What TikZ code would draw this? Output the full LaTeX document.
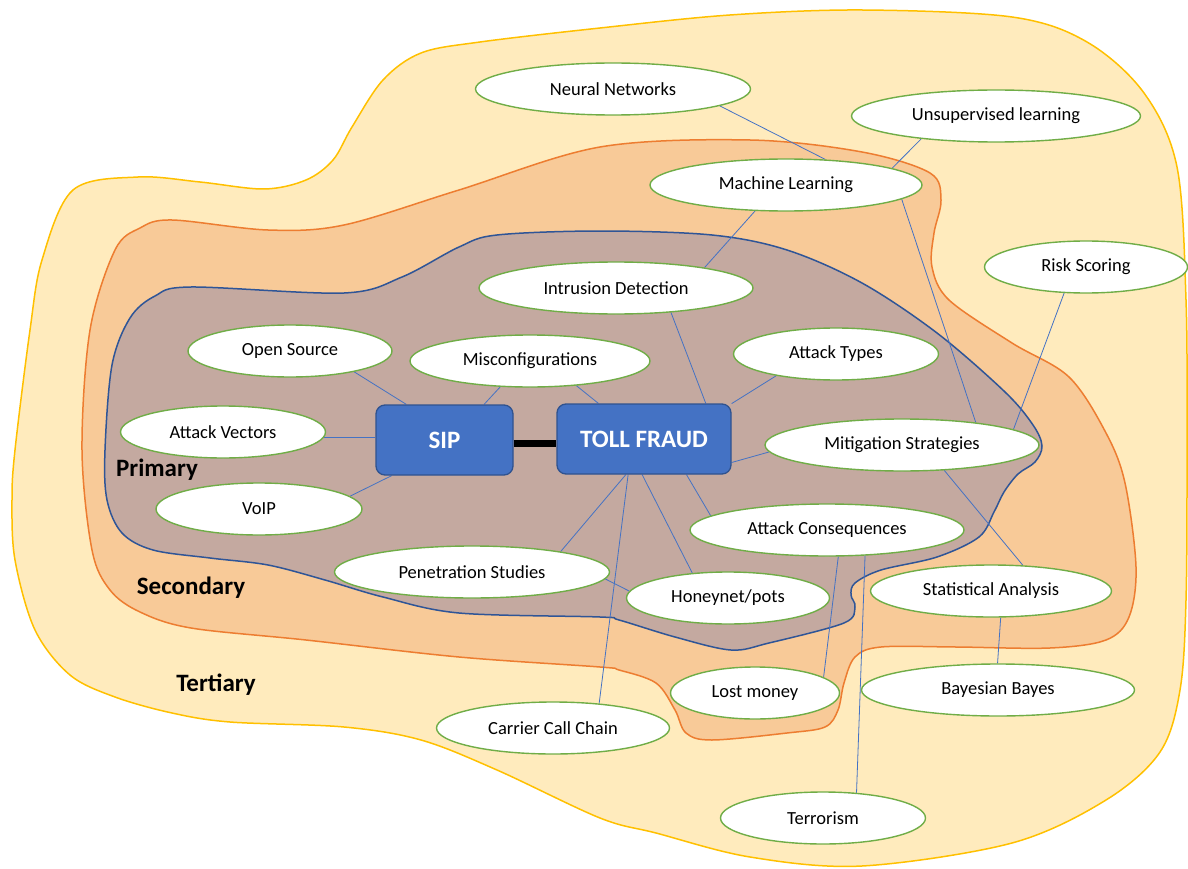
\documentclass[tikz,border=0pt]{standalone}
\usepackage{fontspec}
\setmainfont{Carlito}
\usetikzlibrary{shapes.geometric,backgrounds}
\definecolor{tfill}{HTML}{FFEBBD}
\definecolor{tline}{HTML}{FFC000}
\definecolor{sfill}{HTML}{F8CA98}
\definecolor{sline}{HTML}{ED7D31}
\definecolor{pfill}{HTML}{C4A9A0}
\definecolor{pline}{HTML}{2F5597}
\definecolor{elg}{HTML}{70AD47}
\definecolor{conn}{HTML}{4472C4}
\definecolor{boxfill}{HTML}{4472C4}
\definecolor{boxline}{HTML}{2F528F}
\begin{document}
\begin{tikzpicture}[x=1pt,y=-1pt,
  topic/.style={ellipse, draw=elg, line width=1.4pt, fill=white, inner sep=0pt,
    minimum height=52pt, font=\fontsize{18.5}{20}\selectfont},
  core/.style={rectangle, rounded corners=9pt, fill=boxfill, draw=boxline, line width=1.3pt,
    text=white, font=\bfseries\fontsize{25}{28}\selectfont, inner sep=0pt},
  zone/.style={font=\bfseries\fontsize{25}{28}\selectfont, inner sep=0pt},
  link/.style={draw=conn, line width=0.8pt},
  blob/.style={line width=1.5pt}]
\useasboundingbox (0,0) rectangle (1188,869);

% core boxes
\node[core, minimum width=137pt, minimum height=70pt] (sip) at (444.5,440) {SIP};
\node[core, minimum width=174pt, minimum height=70pt] (toll) at (644,439) {TOLL FRAUD};

% topic ellipses
\node[topic, minimum width=275pt] (nn) at (613,89) {Neural Networks};
\node[topic, minimum width=289pt] (ul) at (996,116) {Unsupervised learning};
\node[topic, minimum width=272pt] (ml) at (786,185) {Machine Learning};
\node[topic, minimum width=203pt] (rs) at (1086,267) {Risk Scoring};
\node[topic, minimum width=274pt] (id) at (616,288) {Intrusion Detection};
\node[topic, minimum width=204pt] (os) at (290,351) {Open Source};
\node[topic, minimum width=240pt] (mc) at (530,361) {Misconfigurations};
\node[topic, minimum width=205pt] (at) at (836,354) {Attack Types};
\node[topic, minimum width=205pt] (av) at (223,432) {Attack Vectors};
\node[topic, minimum width=274pt] (ms) at (902,445) {Mitigation Strategies};
\node[topic, minimum width=206pt] (voip) at (259,509) {VoIP};
\node[topic, minimum width=274pt] (ac) at (827,530) {Attack Consequences};
\node[topic, minimum width=275pt] (ps) at (472,572) {Penetration Studies};
\node[topic, minimum width=203pt] (hp) at (728,598) {Honeynet/pots};
\node[topic, minimum width=241pt] (sa) at (991,591) {Statistical Analysis};
\node[topic, minimum width=169pt] (lm) at (755,693) {Lost money};
\node[topic, minimum width=273pt] (bb) at (998,690) {Bayesian Bayes};
\node[topic, minimum width=233pt] (cc) at (553,728) {Carrier Call Chain};
\node[topic, minimum width=205pt] (tr) at (823,818) {Terrorism};

% zone labels
\node[zone] (lp) at (157,470) {Primary};
\node[zone] (ls) at (191,588) {Secondary};
\node[zone] (lt) at (216,685) {Tertiary};

\begin{scope}[on background layer]
% tertiary
\draw[blob, draw=tline, fill=tfill] plot[smooth cycle, tension=0.55] coordinates {
 (73,190) (138,177) (200,182) (264,189) (306,180) (333,160) (352,127) (383,80)
 (421,53) (480,42) (600,28) (730,15) (862,10) (1012,17) (1087,42) (1144,93)
 (1177,167) (1186,300) (1187,450) (1186,600) (1180,690) (1160,752) (1106,800)
 (1012,843) (862,866) (750,857) (656,833) (600,818) (497,770) (421,740) (344,727)
 (230,722) (172,713) (115,697) (70,675) (35,630) (15,560) (12,500) (15,450)
 (30,330) (42,260)};
% secondary
\draw[blob, draw=sline, fill=sfill] plot[smooth cycle, tension=0.55] coordinates {
 (172,220) (268,230) (344,225) (459,190) (600,147) (750,140) (862,152) (930,173)
 (941,200) (934,233) (932,267) (949,300) (1012,343) (1069,377) (1106,433)
 (1125,483) (1136,567) (1129,617) (1106,640) (1050,648) (956,647) (881,647)
 (855,657) (844,683) (838,710) (825,727) (787,733) (712,740) (686,733) (675,710)
 (656,683) (619,670) (600,667) (459,657) (306,640) (191,628) (140,612) (110,590)
 (92,550) (82,450) (90,330) (115,250) (140,228)};
% primary
\draw[blob, draw=pline, fill=pfill] plot[smooth cycle, tension=0.55] coordinates {
 (191,287) (344,293) (402,277) (459,247) (497,235) (600,231) (712,235) (787,250)
 (862,283) (937,333) (1005,392) (1033,425) (1042,446) (1035,462) (1018,474) (1004,492)
 (994,512) (979,537) (937,557) (881,570) (855,583) (851,595) (855,607) (844,623) (769,643)
 (731,650) (675,637) (619,620) (600,617) (459,613) (383,597) (325,580) (268,565)
 (210,558) (153,550) (122,533) (107,500) (105,450) (112,365) (130,318) (155,296)};

% connectors
\draw[line width=7pt] (sip.-3) -- (sip.-3 -| toll.west);
\path[link] (os.-18) -- (sip.137);
\path[link] (mc.-139) -- (sip.42);
\path[link] (mc.-28) -- (toll.142);
\path[link] (av.-3) -- (av.-3 -| sip.west);
\path[link] (voip.8) -- (sip.-146);
\path[link] (id.-24) -- (toll.30);
\path[link] (id.13) -- (ml.-140);
\path[link] (nn.-9) -- (ml.33);
\path[link] (ul.-163) -- (ml.9);
\path[link] (ml.-7.5) -- (ms.17);
\path[link] (rs.-130) -- (ms.8.5);
\path[link] (at.-160) -- (toll.22);
\path[link] (ms.-177) -- (toll.-15);
\path[link] (ms.-31) -- (sa.39);
\path[link] (sa.-70) -- (bb.91);
\path[link] (toll.-40) -- (ac.173);
\path[link] (toll.-93) -- (hp.145);
\path[link] (toll.-114) -- (cc.28);
\path[link] (toll.-117) -- (ps.13.5);
\path[link] (ps.-3.4) -- (hp.176.6);
\path[link] (ac.-67) -- (lm.13);
\path[link] (ac.-34) -- (tr.37);
\end{scope}
\end{tikzpicture}
\end{document}
